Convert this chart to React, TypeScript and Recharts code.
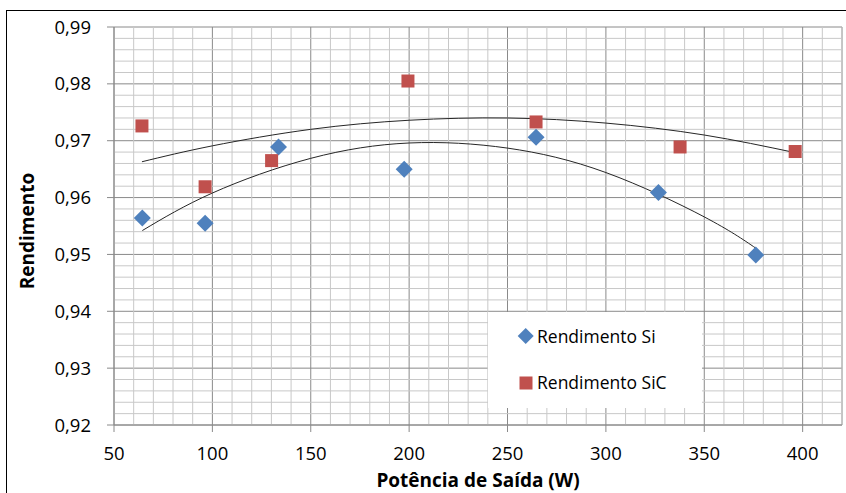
import React from 'react';
import { ComposedChart, Scatter, Line, XAxis, YAxis, CartesianGrid, Legend, ReferenceLine } from 'recharts';

// Measured points
const siX = [64.4, 96.3, 133.6, 197.5, 264.5, 326.7, 376.2];
const siY = [0.9564, 0.9555, 0.9689, 0.965, 0.9706, 0.9609, 0.9499];
const sicX = [64.2, 96.3, 130.1, 199.4, 264.5, 337.7, 396.2];
const sicY = [0.9726, 0.9619, 0.9665, 0.9805, 0.9733, 0.9689, 0.9681];

// Trendlines
const siTrendX = [64.4, 100, 150, 200, 250, 300, 350, 376.2];
const siTrendY = [0.9542, 0.9608, 0.9669, 0.9696, 0.9687, 0.9644, 0.9566, 0.9511];
const sicTrendX = [64.2, 100, 150, 200, 250, 300, 350, 396.2];
const sicTrendY = [0.9663, 0.9691, 0.972, 0.9736, 0.974, 0.9731, 0.971, 0.9679];

const xTicks = [50, 100, 150, 200, 250, 300, 350, 400];
const yTicks = [0.92, 0.93, 0.94, 0.95, 0.96, 0.97, 0.98, 0.99];

const seriesNames = ['Rendimento Si', 'Rendimento SiC'];
const xTitle = 'Potência de Saída (W)';
const yTitle = 'Rendimento';

const zip = (xs: number[], ys: number[]) => xs.map((x, i) => ({ x, y: ys[i] }));
const siData = zip(siX, siY);
const sicData = zip(sicX, sicY);
const siTrend = zip(siTrendX, siTrendY);
const sicTrend = zip(sicTrendX, sicTrendY);

const minorX: number[] = [];
for (let v = 60; v <= 420; v += 10) if (v % 50 !== 0) minorX.push(v);
const minorY: number[] = [];
for (let k = 1; k < 35; k++) if (k % 5 !== 0) minorY.push(+(0.92 + k * 0.002).toFixed(3));

const BLUE = '#4f81bd';
const RED = '#c0504d';
const FONT = '"Open Sans", sans-serif';
const MINOR = '#c8c8c8';
const MAJOR = '#8a8a8a';

const Diamond = (props: any) => {
  const { cx, cy } = props;
  const r = 8.5;
  return <polygon points={`${cx},${cy - r} ${cx + r},${cy} ${cx},${cy + r} ${cx - r},${cy}`} fill={BLUE} />;
};
const Square = (props: any) => {
  const { cx, cy } = props;
  const s = 13;
  return <rect x={cx - s / 2} y={cy - s / 2} width={s} height={s} fill={RED} />;
};

const LegendBox = () => (
  <svg width={214} height={96} style={{ display: 'block', background: '#fff' }}>
    <polygon points="37.7,16 45.7,24 37.7,32 29.7,24" fill={BLUE} />
    <text x={49} y={30.5} fontFamily={FONT} fontSize={17.5} fill="#000">{seriesNames[0]}</text>
    <rect x={31.5} y={64.5} width={13} height={13} fill={RED} />
    <text x={49} y={77} fontFamily={FONT} fontSize={17.5} fill="#000">{seriesNames[1]}</text>
  </svg>
);

export default function App() {
  return (
    <div style={{ position: 'absolute', left: 0, top: 0, width: 846, height: 493, overflow: 'hidden', background: '#fff' }}>
      <div style={{ position: 'absolute', left: 6, top: 9.5, width: 900, height: 600, border: '1.5px solid #000', boxSizing: 'border-box' }} />
      <ComposedChart width={846} height={493} margin={{ top: 27, right: 4, left: 0, bottom: 0 }}>
        <CartesianGrid stroke={MAJOR} strokeWidth={1} />
        {minorX.map((v) => (
          <ReferenceLine key={'vx' + v} x={v} stroke={MINOR} strokeWidth={1} ifOverflow="hidden" />
        ))}
        {minorY.map((v) => (
          <ReferenceLine key={'hy' + v} y={v} stroke={MINOR} strokeWidth={1} ifOverflow="hidden" />
        ))}
        <XAxis
          type="number"
          dataKey="x"
          domain={[50, 420]}
          ticks={xTicks}
          allowDataOverflow
          height={68}
          tickSize={7}
          tickMargin={15}
          axisLine={{ stroke: MAJOR }}
          tickLine={{ stroke: MAJOR }}
          tick={{ fill: '#000', fontSize: 18.5, fontFamily: FONT }}
          label={{
            content: (p: any) => {
              const vb = p.viewBox;
              return (
                <text x={vb.x + vb.width / 2} y={vb.y + 62} textAnchor="middle" fontFamily={FONT} fontWeight="bold" fontSize={19} fill="#000">
                  {xTitle}
                </text>
              );
            },
          }}
        />
        <YAxis
          type="number"
          dataKey="y"
          domain={[0.92, 0.99]}
          ticks={yTicks}
          allowDataOverflow
          width={114}
          tickSize={7}
          tickMargin={16}
          axisLine={{ stroke: MAJOR }}
          tickLine={{ stroke: MAJOR }}
          tick={{ fill: '#000', fontSize: 18.5, fontFamily: FONT }}
          tickFormatter={(v: number) => v.toFixed(2).replace('.', ',')}
          label={{
            content: (p: any) => {
              const vb = p.viewBox;
              const cx = 27;
              const cy = vb.y + vb.height / 2 + 5;
              return (
                <text x={cx} y={cy} transform={`rotate(-90 ${cx} ${cy})`} textAnchor="middle" dominantBaseline="central" fontFamily={FONT} fontWeight="bold" fontSize={19} fill="#000">
                  {yTitle}
                </text>
              );
            },
          }}
        />
        <Legend
          layout="vertical"
          align="center"
          verticalAlign="middle"
          content={() => <LegendBox />}
          wrapperStyle={{ left: 488, top: 312, width: 214, height: 96 }}
        />
        <Scatter name={seriesNames[0]} data={siData} dataKey="y" shape={<Diamond />} isAnimationActive={false} legendType="none" />
        <Scatter name={seriesNames[1]} data={sicData} dataKey="y" shape={<Square />} isAnimationActive={false} legendType="none" />
        <Line data={siTrend} dataKey="y" type="natural" stroke="#262626" strokeWidth={1} dot={false} activeDot={false} isAnimationActive={false} legendType="none" />
        <Line data={sicTrend} dataKey="y" type="natural" stroke="#262626" strokeWidth={1} dot={false} activeDot={false} isAnimationActive={false} legendType="none" />
      </ComposedChart>
    </div>
  );
}
